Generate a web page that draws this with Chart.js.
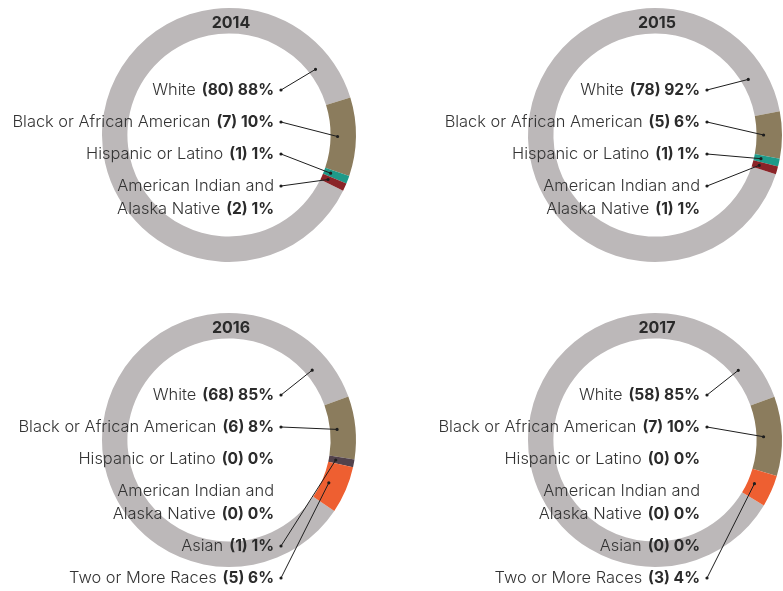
<!DOCTYPE html>
<html>
<head>
<meta charset="utf-8">
<script src="https://cdn.jsdelivr.net/npm/chart.js@4"></script>
<style>
  body { margin: 0; background: #fff; overflow: hidden; width: 783px; height: 591px; position: relative; }
  canvas { position: absolute; }
</style>
</head>
<body>
<canvas id="c2014" width="392" height="305" style="left:0;top:0"></canvas>
<canvas id="c2015" width="392" height="305" style="left:392px;top:0"></canvas>
<canvas id="c2016" width="392" height="305" style="left:0;top:305px"></canvas>
<canvas id="c2017" width="392" height="305" style="left:392px;top:305px"></canvas>
<script>
const categories = ['White', 'Black or African American', 'Hispanic or Latino', 'American Indian and Alaska Native', 'Asian', 'Two or More Races']
const categoryLines = [['White'], ['Black or African American'], ['Hispanic or Latino'], ['American Indian and', 'Alaska Native'], ['Asian'], ['Two or More Races']]
const colors = ['#bcb8b9', '#8b7c5d', '#1e9a89', '#8a2428', '#52424b', '#ee5f31']

const counts2014 = [80, 7, 1, 2]
const pct2014 = [88, 10, 1, 1]
const counts2015 = [78, 5, 1, 1]
const pct2015 = [92, 6, 1, 1]
const counts2016 = [68, 6, 0, 0, 1, 5]
const pct2016 = [85, 8, 0, 0, 1, 6]
const counts2017 = [58, 7, 0, 0, 0, 3]
const pct2017 = [85, 10, 0, 0, 0, 4]

const labelPlugin = {
    id: 'raceLabels',
    afterDraw(chart, args, opts) {
        const ctx = chart.ctx
        const arcs = chart.getDatasetMeta(0).data
        const cx = arcs[0].x
        const cy = arcs[0].y
        const counts = opts.counts
        const pct = opts.pct

        ctx.save()
        ctx.textBaseline = 'middle'
        ctx.textAlign = 'center'
        ctx.fillStyle = '#2a2a2a'
        ctx.font = 'bold 16px Inter'
        ctx.fillText(opts.year, cx + 2, cy - 112)

        let y = cy - 45
        const right = cx + 45
        ctx.textAlign = 'right'
        for (let i = 0; i < counts.length; i++) {
            const lines = categoryLines[i]
            const firstY = y
            for (let l = 0; l < lines.length; l++) {
                const last = l === lines.length - 1
                let x = right
                if (last) {
                    const bold = '(' + counts[i] + ') ' + pct[i] + '%'
                    ctx.font = 'bold 15.6px Inter'
                    ctx.fillStyle = '#2b2b2b'
                    ctx.fillText(bold, x, y)
                    x -= ctx.measureText(bold).width + 6
                }
                ctx.font = '300 16.4px Inter'
                ctx.fillStyle = '#333'
                ctx.fillText(lines[l], x, y)
                if (!last) y += 23
            }
            y += 32

            if (counts[i] > 0) {
                const arc = arcs[i]
                const a = i === 0 ? arc.endAngle - 20 * Math.PI / 180 : (arc.startAngle + arc.endAngle) / 2
                const r = arc.innerRadius + 7
                const ex = cx + Math.cos(a) * r
                const ey = cy + Math.sin(a) * r
                const sx = cx + 52
                ctx.strokeStyle = '#1e1e1e'
                ctx.fillStyle = '#1e1e1e'
                ctx.lineWidth = 1
                ctx.beginPath()
                ctx.moveTo(sx, firstY)
                ctx.lineTo(ex, ey)
                ctx.stroke()
                ctx.beginPath()
                ctx.arc(sx, firstY, 1.6, 0, Math.PI * 2)
                ctx.arc(ex, ey, 1.6, 0, Math.PI * 2)
                ctx.fill()
            }
        }
        ctx.restore()
    }
}

function createChart(id, year, counts, pct, rotation, padding) {
    new Chart(document.getElementById(id), {
        type: 'doughnut',
        data: {
            labels: categories.slice(0, pct.length),
            datasets: [{
                data: pct,
                backgroundColor: colors.slice(0, pct.length),
                borderWidth: 0,
            }],
        },
        options: {
            responsive: false,
            animation: false,
            cutout: '80%',
            rotation: rotation,
            layout: { padding: padding },
            plugins: {
                legend: { display: false },
                tooltip: { enabled: false },
                raceLabels: { year: year, counts: counts, pct: pct },
            },
        },
        plugins: [labelPlugin],
    })
}

const padLeft = { left: 102, right: 36, top: 8, bottom: 43 }
const padRight = { left: 136, right: 2, top: 8, bottom: 43 }

createChart('c2014', '2014', counts2014, pct2014, 116, padLeft)
createChart('c2015', '2015', counts2015, pct2015, 108, padRight)
createChart('c2016', '2016', counts2016, pct2016, 124, padLeft)
createChart('c2017', '2017', counts2017, pct2017, 121, padRight)
</script>
</body>
</html>
